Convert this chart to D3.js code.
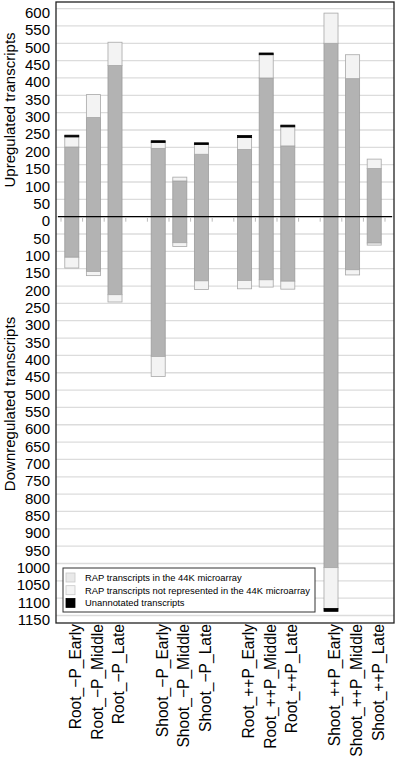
<!DOCTYPE html>
<html>
<head>
<meta charset="utf-8">
<script src="https://cdnjs.cloudflare.com/ajax/libs/d3/7.8.5/d3.min.js"></script>
<style>
  body { margin: 0; background: #fff; }
  #graphicContainer { width: 397px; height: 758px; }
  text { font-family: "Liberation Sans", Arial, sans-serif; fill: #000; }
</style>
</head>
<body>
<div id="graphicContainer"></div>
<script>
// categories, blanks are the gaps between groups
var categories = ["Root_\u2212P_Early", "Root_\u2212P_Middle", "Root_\u2212P_Late",
  "Shoot_\u2212P_Early", "Shoot_\u2212P_Middle", "Shoot_\u2212P_Late",
  "Root_++P_Early", "Root_++P_Middle", "Root_++P_Late",
  "Shoot_++P_Early", "Shoot_++P_Middle", "Shoot_++P_Late"]
var slots = ["Root_\u2212P_Early", "Root_\u2212P_Middle", "Root_\u2212P_Late", "gap1",
  "Shoot_\u2212P_Early", "Shoot_\u2212P_Middle", "Shoot_\u2212P_Late", "gap2",
  "Root_++P_Early", "Root_++P_Middle", "Root_++P_Late", "gap3",
  "Shoot_++P_Early", "Shoot_++P_Middle", "Shoot_++P_Late"]

// upregulated transcripts
var upInArray = [201, 286, 436, 197, 103, 180, 194, 400, 204, 500, 398, 139]
var upNotInArray = [29, 66, 67, 17, 11, 28, 34, 67, 55, 87, 69, 27]
var upUnannotated = [5, 0, 0, 5, 0, 5, 6, 5, 5, 0, 0, 0]

// downregulated transcripts
var downInArray = [117, 158, 225, 403, 75, 185, 184, 182, 186, 1012, 153, 76]
var downNotInArray = [31, 12, 21, 58, 11, 25, 24, 21, 23, 118, 15, 6]
var downUnannotated = [0, 0, 0, 0, 0, 0, 0, 0, 0, 8, 0, 0]

var yTicks = d3.range(-1150, 601, 50)

var legendLabels = ["RAP transcripts in the 44K microarray",
  "RAP transcripts not represented in the 44K microarray",
  "Unannotated transcripts"]

var colours = {
  inArray: "#b3b3b3",
  notIn: "#f3f3f3",
  unannotated: "#000"
}
var legendColours = ["#e9e9e9", "#f4f4f4", "#000"]

var width = 397
var height = 758
var frame = { left: 56, right: 394, top: 2, bottom: 623 }

var svg = d3.select("#graphicContainer").append("svg")
  .attr("width", width)
  .attr("height", height)

var x = d3.scaleBand().domain(slots).range([61, 385]).paddingInner(0.35).paddingOuter(0.175)
var y = d3.scaleLinear().domain([600, -1150]).range([8.6, 615.5])

// gridlines
svg.selectAll(".grid")
  .data(yTicks)
  .enter().append("line")
  .attr("class", "grid")
  .attr("x1", frame.left)
  .attr("x2", frame.right)
  .attr("y1", function (d) { return y(d) })
  .attr("y2", function (d) { return y(d) })
  .attr("stroke", "#dcdcdc")
  .attr("stroke-width", 1.3)

// tick labels (absolute values, sit a little under their gridline)
svg.selectAll(".yLabel")
  .data(yTicks)
  .enter().append("text")
  .attr("class", "yLabel")
  .attr("x", 50)
  .attr("y", function (d) { return y(d) + 9.5 })
  .style("text-anchor", "end")
  .style("font-size", "15px")
  .text(function (d) { return Math.abs(d) })

// build stacked segments
var segments = []
categories.forEach(function (c, i) {
  var up = [[0, upInArray[i], colours.inArray, "#9c9c9c"],
    [upInArray[i], upInArray[i] + upNotInArray[i], colours.notIn, "#a8a8a8"],
    [upInArray[i] + upNotInArray[i], upInArray[i] + upNotInArray[i] + upUnannotated[i], colours.unannotated, "#000"]]
  var down = [[0, -downInArray[i], colours.inArray, "#9c9c9c"],
    [-downInArray[i], -(downInArray[i] + downNotInArray[i]), colours.notIn, "#a8a8a8"],
    [-(downInArray[i] + downNotInArray[i]), -(downInArray[i] + downNotInArray[i] + downUnannotated[i]), colours.unannotated, "#000"]]
  up.concat(down).forEach(function (s) {
    if (s[0] != s[1]) {
      segments.push({ key: c, from: s[0], to: s[1], fill: s[2], stroke: s[3] })
    }
  })
})

svg.selectAll(".bar")
  .data(segments)
  .enter().append("rect")
  .attr("class", "bar")
  .attr("x", function (d) { return x(d.key) })
  .attr("width", x.bandwidth())
  .attr("y", function (d) { return y(Math.max(d.from, d.to)) })
  .attr("height", function (d) { return Math.abs(y(d.from) - y(d.to)) })
  .attr("fill", function (d) { return d.fill })
  .attr("stroke", function (d) { return d.stroke })
  .attr("stroke-width", 0.8)

// zero line and small category ticks
svg.append("line")
  .attr("x1", frame.left + 2)
  .attr("x2", frame.right - 2)
  .attr("y1", y(0))
  .attr("y2", y(0))
  .attr("stroke", "#000")
  .attr("stroke-width", 1.2)

var tickPos = slots.map(function (d) { return x(d) - x.step() * x.paddingInner() / 2 })
tickPos.push(x(slots[slots.length - 1]) + x.bandwidth() + x.step() * x.paddingInner() / 2)

svg.selectAll(".xTick")
  .data(tickPos)
  .enter().append("line")
  .attr("class", "xTick")
  .attr("x1", function (d) { return d })
  .attr("x2", function (d) { return d })
  .attr("y1", y(0) + 1)
  .attr("y2", y(0) + 5)
  .attr("stroke", "#bbb")

// frame
svg.append("rect")
  .attr("x", frame.left)
  .attr("y", frame.top)
  .attr("width", frame.right - frame.left)
  .attr("height", frame.bottom - frame.top)
  .attr("fill", "none")
  .attr("stroke", "#222")
  .attr("stroke-width", 1.3)

// category labels
svg.selectAll(".xLabel")
  .data(categories)
  .enter().append("text")
  .attr("class", "xLabel")
  .attr("transform", function (d) {
    return "translate(" + (x(d) + x.bandwidth() / 2 + 4) + "," + 624 + ") rotate(-90)"
  })
  .attr("dy", "0.35em")
  .style("text-anchor", "end")
  .style("font-size", "15.6px")
  .text(function (d) { return d })

// axis titles
svg.append("text")
  .attr("transform", "translate(15,110) rotate(-90)")
  .style("text-anchor", "middle")
  .style("font-size", "15px")
  .text("Upregulated transcripts")

svg.append("text")
  .attr("transform", "translate(15,404) rotate(-90)")
  .style("text-anchor", "middle")
  .style("font-size", "15px")
  .text("Downregulated transcripts")

// legend
var legend = svg.append("g").attr("transform", "translate(63,568)")

legend.append("rect")
  .attr("width", 252)
  .attr("height", 44)
  .attr("fill", "#fff")
  .attr("stroke", "#333")
  .attr("stroke-width", 1)

legendLabels.forEach(function (d, i) {
  legend.append("rect")
    .attr("x", 3)
    .attr("y", 5 + i * 12.7)
    .attr("width", 9)
    .attr("height", 9)
    .attr("fill", legendColours[i])
    .attr("stroke", i == 2 ? "#000" : "#c8c8c8")
    .attr("stroke-width", 0.8)
  legend.append("text")
    .attr("x", 22)
    .attr("y", 13 + i * 12.7)
    .style("font-size", "9.4px")
    .text(d)
})
</script>
</body>
</html>
